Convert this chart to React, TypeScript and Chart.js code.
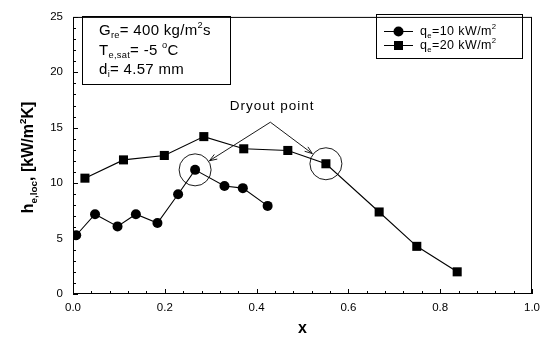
import React, { useEffect, useRef } from 'react';
import { Chart, registerables } from 'chart.js';

Chart.register(...registerables);

// ---- data ----
const circleX = [0.007, 0.048, 0.097, 0.137, 0.184, 0.229, 0.266, 0.33, 0.37, 0.424];
const circleY = [5.3, 7.2, 6.1, 7.2, 6.4, 9.0, 11.2, 9.75, 9.55, 7.95];
const squareX = [0.026, 0.11, 0.199, 0.285, 0.372, 0.468, 0.551, 0.667, 0.749, 0.837];
const squareY = [10.45, 12.1, 12.5, 14.2, 13.1, 12.95, 11.75, 7.4, 4.3, 2.0];

const xTickStep = 0.2;
const yTickStep = 5;

type Seg = { t: string; sub?: boolean; sup?: boolean };

const legendCircle: Seg[] = [{ t: 'q' }, { t: 'e', sub: true }, { t: '=10 kW/m' }, { t: '2', sup: true }];
const legendSquare: Seg[] = [{ t: 'q' }, { t: 'e', sub: true }, { t: '=20 kW/m' }, { t: '2', sup: true }];

const infoLines: Seg[][] = [
  [{ t: 'G' }, { t: 're', sub: true }, { t: '= 400 kg/m' }, { t: '2', sup: true }, { t: 's' }],
  [{ t: 'T' }, { t: 'e,sat', sub: true }, { t: '= -5 ' }, { t: 'o', sup: true }, { t: 'C' }],
  [{ t: 'd' }, { t: 'i', sub: true }, { t: '= 4.57 mm' }],
];

const yTitle: Seg[] = [{ t: 'h' }, { t: 'e,loc', sub: true }, { t: ', [kW/m' }, { t: '2', sup: true }, { t: 'K]' }];
const xTitle: Seg[] = [{ t: 'x' }];
const dryoutLabel = 'Dryout point';
const dryoutIndex = 6;
const dryoutApex = { x: 0.43, y: 15.5 };
const dryoutTextPos = { x: 0.434, y: 16.6 };

const FONT = '"Liberation Sans", Arial, sans-serif';

function measureRich(ctx: CanvasRenderingContext2D, segs: Seg[], size: number, weight: string) {
  let w = 0;
  for (const s of segs) {
    const fs = s.sub || s.sup ? size * 0.62 : size;
    ctx.font = `${weight} ${fs}px ${FONT}`;
    w += ctx.measureText(s.t).width;
  }
  return w;
}

function drawRich(ctx: CanvasRenderingContext2D, segs: Seg[], x: number, y: number, size: number, weight = 'normal') {
  let cx = x;
  ctx.textBaseline = 'alphabetic';
  ctx.textAlign = 'left';
  for (const s of segs) {
    const fs = s.sub || s.sup ? size * 0.62 : size;
    ctx.font = `${weight} ${fs}px ${FONT}`;
    let yy = y;
    if (s.sub) yy = y + size * 0.22;
    if (s.sup) yy = y - size * 0.45;
    ctx.fillText(s.t, cx, yy);
    cx += ctx.measureText(s.t).width;
  }
  return cx - x;
}

function arrow(ctx: CanvasRenderingContext2D, x1: number, y1: number, x2: number, y2: number) {
  ctx.beginPath();
  ctx.moveTo(x1, y1);
  ctx.lineTo(x2, y2);
  ctx.stroke();
  const a = Math.atan2(y2 - y1, x2 - x1);
  const L = 8;
  const sp = 0.35;
  ctx.beginPath();
  ctx.moveTo(x2 - L * Math.cos(a - sp), y2 - L * Math.sin(a - sp));
  ctx.lineTo(x2, y2);
  ctx.lineTo(x2 - L * Math.cos(a + sp), y2 - L * Math.sin(a + sp));
  ctx.stroke();
}

const decorPlugin = {
  id: 'decor',
  afterDraw(chart: any) {
    const ctx: CanvasRenderingContext2D = chart.ctx;
    const { left, right, top, bottom } = chart.chartArea;
    const xs = chart.scales.x;
    const ys = chart.scales.y;
    ctx.save();
    ctx.strokeStyle = '#000';
    ctx.fillStyle = '#000';
    ctx.lineWidth = 1;
    // frame
    ctx.strokeRect(left + 0.5, top + 0.5, right - left - 1, bottom - top - 1);
    // inward ticks
    ctx.beginPath();
    for (let i = 0; i <= 25; i++) {
      const v = i * 0.04;
      const px = Math.round(xs.getPixelForValue(v)) + 0.5;
      const major = i % 5 === 0;
      ctx.moveTo(px, bottom);
      ctx.lineTo(px, bottom - (major ? 5 : 3));
    }
    for (let i = 0; i <= 25; i++) {
      const py = Math.round(ys.getPixelForValue(i)) + 0.5;
      const major = i % 5 === 0;
      ctx.moveTo(left, py);
      ctx.lineTo(left + (major ? 5 : 3), py);
    }
    ctx.stroke();

    // info box
    ctx.lineWidth = 1;
    ctx.strokeRect(82.5, 16.5, 148, 68);
    const infoBase = [35, 55, 74];
    (ctx as any).letterSpacing = '0.3px';
    infoLines.forEach((ln, i) => drawRich(ctx, ln, 99, infoBase[i], 15));
    (ctx as any).letterSpacing = '0px';

    // legend
    ctx.strokeRect(376.5, 14.5, 146, 44);
    const rows = [31, 45];
    [legendCircle, legendSquare].forEach((segs, i) => {
      const yy = rows[i];
      ctx.beginPath();
      ctx.moveTo(384, yy + 0.5);
      ctx.lineTo(413, yy + 0.5);
      ctx.stroke();
      ctx.beginPath();
      if (i === 0) {
        ctx.arc(398.5, yy + 0.5, 5, 0, Math.PI * 2);
        ctx.fill();
      } else {
        ctx.fillRect(394, yy - 4, 9, 9);
      }
      (ctx as any).letterSpacing = '0.4px';
      drawRich(ctx, segs, 420, yy + 4, 12.5);
      (ctx as any).letterSpacing = '0px';
    });

    // dryout annotation
    const pts = [
      { x: xs.getPixelForValue(circleX[dryoutIndex]), y: ys.getPixelForValue(circleY[dryoutIndex]) },
      { x: xs.getPixelForValue(squareX[dryoutIndex]), y: ys.getPixelForValue(squareY[dryoutIndex]) },
    ];
    const ax = xs.getPixelForValue(dryoutApex.x);
    const ay = ys.getPixelForValue(dryoutApex.y);
    const R = 16;
    ctx.lineWidth = 0.9;
    pts.forEach((p) => {
      ctx.beginPath();
      ctx.arc(p.x, p.y, R, 0, Math.PI * 2);
      ctx.stroke();
      const a = Math.atan2(ay - p.y, ax - p.x);
      const tx = p.x + (R + 1) * Math.cos(a);
      const ty = p.y + (R + 1) * Math.sin(a);
      arrow(ctx, ax, ay, tx, ty);
    });
    ctx.font = `normal 13.5px ${FONT}`;
    (ctx as any).letterSpacing = '1px';
    ctx.textAlign = 'center';
    ctx.textBaseline = 'alphabetic';
    ctx.fillText(dryoutLabel, xs.getPixelForValue(dryoutTextPos.x), ys.getPixelForValue(dryoutTextPos.y));
    (ctx as any).letterSpacing = '0px';

    // axis titles
    const xw = measureRich(ctx, xTitle, 16, 'bold');
    drawRich(ctx, xTitle, (left + right) / 2 - xw / 2, 333, 16, 'bold');
    ctx.save();
    const yw = measureRich(ctx, yTitle, 16, 'bold');
    ctx.translate(33, (top + bottom) / 2 + 2);
    ctx.rotate(-Math.PI / 2);
    drawRich(ctx, yTitle, -yw / 2, 0, 16, 'bold');
    ctx.restore();

    ctx.restore();
  },
};

export default function App() {
  const ref = useRef<HTMLCanvasElement | null>(null);
  useEffect(() => {
    if (!ref.current) return;
    const chart = new Chart(ref.current, {
      type: 'scatter',
      data: {
        datasets: [
          {
            data: circleX.map((x, i) => ({ x, y: circleY[i] })),
            showLine: true,
            borderColor: '#000',
            borderWidth: 1.1,
            pointStyle: 'circle',
            pointRadius: 5,
            pointBackgroundColor: '#000',
            pointBorderColor: '#000',
            pointBorderWidth: 0,
          },
          {
            data: squareX.map((x, i) => ({ x, y: squareY[i] })),
            showLine: true,
            borderColor: '#000',
            borderWidth: 1.1,
            pointStyle: 'rect',
            pointRadius: 6.4,
            pointBackgroundColor: '#000',
            pointBorderColor: '#000',
            pointBorderWidth: 0,
          },
        ],
      },
      options: {
        animation: false,
        responsive: false,
        devicePixelRatio: 1,
        layout: { padding: { left: 0, right: 18, top: 8, bottom: 0 } },
        plugins: { legend: { display: false }, tooltip: { enabled: false } },
        scales: {
          x: {
            type: 'linear',
            min: 0,
            max: 1,
            ticks: {
              stepSize: xTickStep,
              callback: (v: any) => Number(v).toFixed(1),
              font: { family: FONT, size: 11.5 },
              color: '#000',
              padding: 7,
              maxRotation: 0,
            },
            grid: { display: false, drawTicks: false },
            border: { display: false },
            afterFit: (s: any) => {
              s.height = 46;
            },
          },
          y: {
            type: 'linear',
            min: 0,
            max: 25,
            ticks: {
              stepSize: yTickStep,
              font: { family: FONT, size: 11.5 },
              color: '#000',
              padding: 10,
            },
            grid: { display: false, drawTicks: false },
            border: { display: false },
            afterFit: (s: any) => {
              s.width = 73;
            },
          },
        },
      },
      plugins: [decorPlugin],
    } as any);
    return () => chart.destroy();
  }, []);
  return (
    <div style={{ position: 'fixed', left: 0, top: 0, width: 550, height: 340, background: '#fff' }}>
      <canvas ref={ref} width={550} height={340} style={{ display: 'block', width: 550, height: 340 }} />
    </div>
  );
}
